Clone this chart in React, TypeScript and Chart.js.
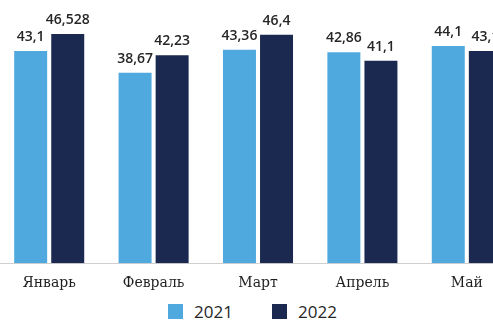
import React, { useEffect, useRef } from "react";
import { Chart, registerables } from "chart.js";

Chart.register(...registerables);

const months = ["Январь", "Февраль", "Март", "Апрель", "Май"];
const values2021 = [43.1, 38.67, 43.36, 42.86, 44.1];
const values2022 = [46.528, 42.23, 46.4, 41.1, 43.1];
const labels2021 = ["43,1", "38,67", "43,36", "42,86", "44,1"];
const labels2022 = ["46,528", "42,23", "46,4", "41,1", "43,1"];
const seriesNames = ["2021", "2022"];

const LIGHT = "#4fa9df";
const DARK = "#1b2850";

// Draws the value text above every bar
const valueLabels = {
  id: "valueLabels",
  afterDatasetsDraw(chart: any) {
    const ctx = chart.ctx;
    const texts = [labels2021, labels2022];
    ctx.save();
    ctx.font = "600 14px 'Open Sans'";
    ctx.fillStyle = "#262626";
    ctx.textAlign = "center";
    ctx.textBaseline = "bottom";
    chart.data.datasets.forEach((_: any, di: number) => {
      const meta = chart.getDatasetMeta(di);
      meta.data.forEach((bar: any, i: number) => {
        ctx.fillText(texts[di][i], bar.x, bar.y - 7);
      });
    });
    ctx.restore();
  },
};

export default function App() {
  const canvasRef = useRef<HTMLCanvasElement | null>(null);

  useEffect(() => {
    if (!canvasRef.current) return;
    const chart = new Chart(canvasRef.current, {
      type: "bar",
      data: {
        labels: months,
        datasets: [
          {
            label: seriesNames[0],
            data: values2021,
            backgroundColor: LIGHT,
            barPercentage: 0.89,
            categoryPercentage: 0.71,
          },
          {
            label: seriesNames[1],
            data: values2022,
            backgroundColor: DARK,
            barPercentage: 0.89,
            categoryPercentage: 0.71,
          },
        ],
      },
      options: {
        animation: false,
        responsive: false,
        maintainAspectRatio: false,
        layout: { padding: { top: 17, left: 0, right: 0, bottom: 0 } },
        plugins: {
          legend: { display: false },
          tooltip: { enabled: false },
        },
        scales: {
          x: {
            grid: { display: false },
            border: { display: true, color: "#cfcfcf", dash: [1, 2], width: 1 },
            ticks: {
              color: "#1f1f1f",
              font: { family: "'DejaVu Serif'", size: 14 },
              padding: 4,
            },
          },
          y: {
            display: false,
            min: 0,
            max: 50,
          },
        },
      },
      plugins: [valueLabels],
    });
    return () => chart.destroy();
  }, []);

  const legendItem = (color: string, text: string, left: number) => (
    <div
      style={{
        position: "absolute",
        left,
        top: 303,
        display: "flex",
        alignItems: "center",
        gap: 11,
      }}
    >
      <span style={{ width: 15, height: 15, background: color, display: "inline-block" }} />
      <span style={{ fontFamily: "'Open Sans'", fontSize: 17, color: "#262626", lineHeight: "17px" }}>
        {text}
      </span>
    </div>
  );

  return (
    <div
      style={{
        position: "fixed",
        left: 0,
        top: 0,
        width: 493,
        height: 320,
        overflow: "hidden",
        background: "#fff",
      }}
    >
      <div style={{ position: "absolute", left: -3, top: 0, width: 522, height: 296 }}>
        <canvas ref={canvasRef} width={522} height={296} />
      </div>
      {legendItem(LIGHT, seriesNames[0], 168)}
      {legendItem(DARK, seriesNames[1], 272)}
    </div>
  );
}
